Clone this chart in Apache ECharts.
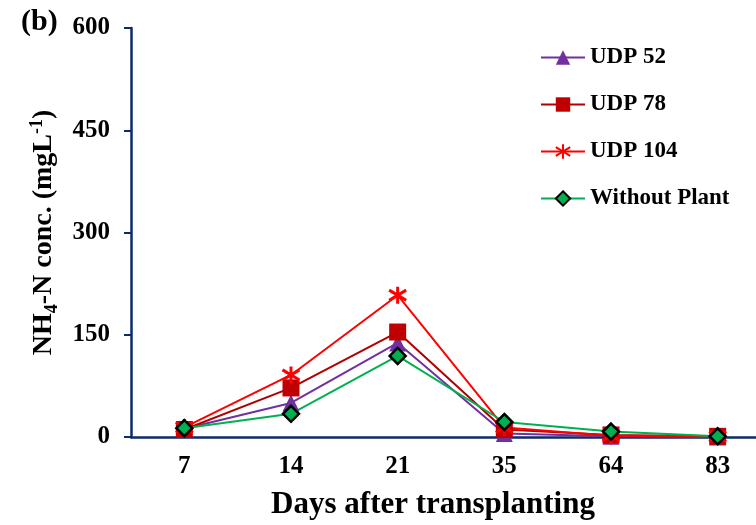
<!DOCTYPE html>
<html><head><meta charset="utf-8">
<script src="https://cdn.jsdelivr.net/npm/echarts@6/dist/echarts.min.js"></script>
<style>html,body{margin:0;padding:0;background:#fff}#c{width:756px;height:525px}</style>
</head><body><div id="c"></div>
<script>
const days = ['7','14','21','35','64','83'];
const udp52 = [12, 50, 138, 5, 1, 0];
const udp78 = [11, 72, 154, 11, 3, 1];
const udp104 = [14, 91, 208, 14, 2, 1];
const withoutPlant = [13, 34, 119, 22, 8, 1];
const yTicks = [0, 150, 300, 450, 600];

const ser = (name, data, color, lineColor, symbol, size, extra) => Object.assign({
  name, type: 'line', data, symbol, symbolSize: size,
  lineStyle: {color: lineColor, width: 2},
  itemStyle: {color: color},
  emphasis: {disabled: true}
}, extra || {});

const chart = echarts.init(document.getElementById('c'));
chart.setOption({
  animation: false,
  grid: {left: 131, top: 28, width: 640, height: 409, outerBoundsMode: 'none', containLabel: false},
  graphic: [{type: 'text', left: 21, top: 7, style: {text: '(b)', font: 'bold 30px "Liberation Serif"', fill: '#000'}}],
  legend: {
    orient: 'vertical', left: 535, top: 41, itemGap: 24, itemWidth: 44, itemHeight: 18,
    textStyle: {fontFamily: 'Liberation Serif', fontWeight: 'bold', fontSize: 23, color: '#000'},
    data: ['UDP 52', 'UDP 78', 'UDP 104', 'Without Plant']
  },
  xAxis: {
    type: 'category', data: days, boundaryGap: true,
    axisLine: {lineStyle: {color: '#0d2b6b', width: 2.5}},
    axisTick: {length: 6, lineStyle: {color: '#0d2b6b', width: 2}},
    axisLabel: {margin: 17, fontFamily: 'Liberation Serif', fontWeight: 'bold', fontSize: 25, color: '#000'},
    name: 'Days after transplanting', nameLocation: 'middle', nameGap: 52,
    nameTextStyle: {fontFamily: 'Liberation Serif', fontWeight: 'bold', fontSize: 31, color: '#000', padding: [0, 36, 0, 0]}
  },
  yAxis: {
    type: 'value', min: yTicks[0], max: yTicks[yTicks.length - 1], interval: 150,
    splitLine: {show: false},
    axisLine: {show: true, lineStyle: {color: '#0d2b6b', width: 2.5}},
    axisTick: {show: true, length: 7, lineStyle: {color: '#0d2b6b', width: 2}},
    axisLabel: {margin: 21, fontFamily: 'Liberation Serif', fontWeight: 'bold', fontSize: 25, color: '#000'},
    name: '{n|NH}{s|4}{n|-N conc. (mgL}{p|-1}{n|)}', nameLocation: 'middle', nameGap: 70,
    nameTextStyle: {
      rich: {
        n: {fontFamily: 'Liberation Serif', fontWeight: 'bold', fontSize: 28, color: '#000'},
        s: {fontFamily: 'Liberation Serif', fontWeight: 'bold', fontSize: 18, color: '#000', verticalAlign: 'bottom', padding: [16, 0, 0, 0]},
        p: {fontFamily: 'Liberation Serif', fontWeight: 'bold', fontSize: 18, color: '#000', padding: [0, 0, 14, 0]}
      }
    }
  },
  series: [
    ser('UDP 52', udp52, '#7030a0', '#7030a0', 'triangle', 17),
    ser('UDP 78', udp78, '#c00000', '#b00000', 'rect', 17),
    ser('UDP 104', udp104, '#ff0000', '#ff0000', 'path://M0,-10L0,10M-9,-6L9,6M-9,6L9,-6', 17,
      {itemStyle: {color: 'none', borderColor: '#ff0000', borderWidth: 3}}),
    ser('Without Plant', withoutPlant, '#00b050', '#00b050', 'diamond', 16,
      {itemStyle: {color: '#00b050', borderColor: '#000', borderWidth: 2.5}})
  ]
});
</script></body></html>
